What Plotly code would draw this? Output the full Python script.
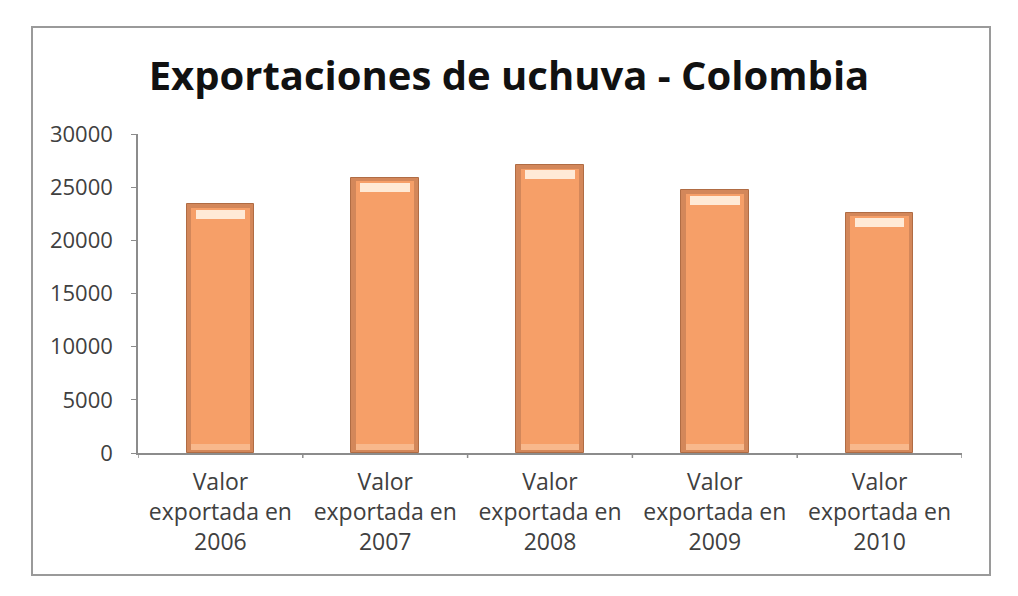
import plotly.graph_objects as go

# Export values of uchuva (Cape gooseberry) from Colombia, by year
years = ["2006", "2007", "2008", "2009", "2010"]
valores = [23400, 25900, 27100, 24700, 22600]
categorias = [f"Valor<br>exportada en<br>{a}" for a in years]

y_ticks = [0, 5000, 10000, 15000, 20000, 25000, 30000]

fig = go.Figure()

# outer bar body (darker rim of the bevel)
fig.add_trace(go.Bar(
    x=categorias, y=valores, width=0.41,
    marker=dict(color="#D3875A", line=dict(color="#B06C44", width=1)),
    hovertemplate="%{y}<extra></extra>",
))
# inner face of each bar
fig.add_trace(go.Bar(
    x=categorias, y=[v - 650 for v in valores], base=[300] * len(valores),
    width=0.355, marker=dict(color="#F69F68", line=dict(width=0)),
    hoverinfo="skip",
))
# highlight near the top of each bar
fig.add_trace(go.Bar(
    x=categorias, y=[850] * len(valores), base=[v - 1350 for v in valores],
    width=0.30, marker=dict(color="#FFEAD6", line=dict(width=0)),
    hoverinfo="skip",
))
# lighter band near the bottom of each bar
fig.add_trace(go.Bar(
    x=categorias, y=[550] * len(valores), base=[250] * len(valores),
    width=0.355, marker=dict(color="#F8B88C", line=dict(width=0)),
    hoverinfo="skip",
))

W, H = 1018, 596
ml, mr, mt, mb = 138, 56, 134, 143
pw, ph = W - ml - mr, H - mt - mb


def px_x(px):
    return (px - ml) / pw


def px_y(py):
    return (H - mb - py) / ph


fig.update_layout(
    width=W, height=H,
    margin=dict(l=ml, r=mr, t=mt, b=mb),
    paper_bgcolor="white", plot_bgcolor="white",
    barmode="overlay", bargap=0.0, showlegend=False,
    font=dict(family="Open Sans, sans-serif", color="#404040", size=22),
    title=dict(
        text="<b>Exportaciones de uchuva - Colombia</b>",
        x=0.5, xanchor="center", y=1 - 76 / H, yanchor="middle",
        font=dict(family="Open Sans, sans-serif", size=40, color="#111111"),
    ),
    xaxis=dict(
        showline=True, linecolor="#8c8c8c", linewidth=1.5,
        ticks="", showgrid=False, tickfont=dict(size=23, color="#404040"),
        range=[-0.5, 4.5], ticklabelstandoff=8,
    ),
    yaxis=dict(
        range=[0, 30000], tickvals=y_ticks, tickformat="d", showgrid=False,
        showline=True, linecolor="#8c8c8c", linewidth=1.5,
        ticks="outside", ticklen=5, tickcolor="#8c8c8c",
        tickfont=dict(size=22, color="#404040"), ticklabelstandoff=14,
    ),
    shapes=[
        dict(type="rect", xref="paper", yref="paper",
             x0=px_x(32), x1=px_x(990), y0=px_y(575), y1=px_y(27),
             line=dict(color="#9a9a9a", width=2), layer="below"),
    ],
)

# small tick marks between categories on the category axis
for i in range(len(categorias) + 1):
    fig.add_shape(type="line", xref="x", yref="paper",
                  x0=i - 0.5, x1=i - 0.5, y0=0, y1=-5 / ph,
                  line=dict(color="#8c8c8c", width=1.5))

fig.write_html("out.html")
